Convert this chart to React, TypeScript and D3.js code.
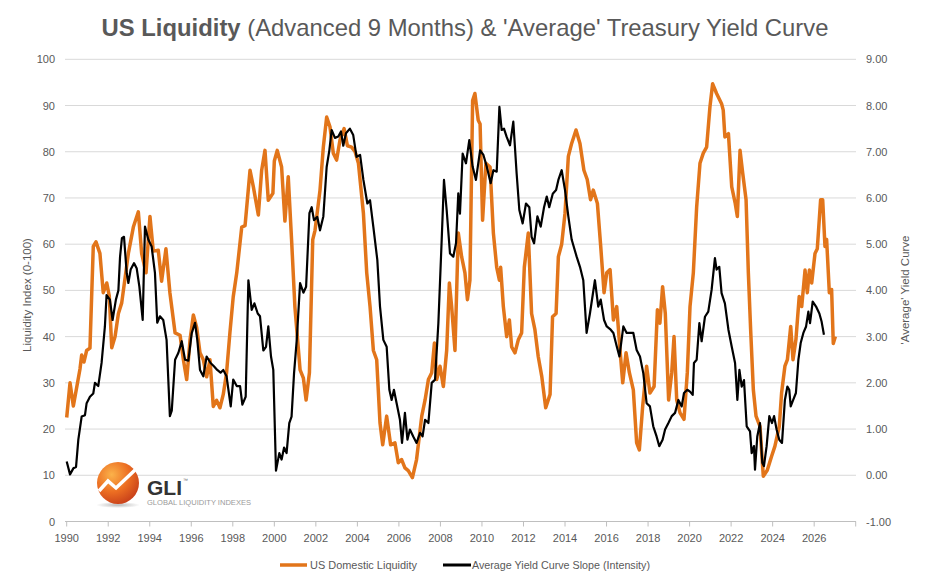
import * as d3 from 'd3';

// US Domestic Liquidity (0-100), [year, value]
const liquidity: [number, number][] = [
  [1990.0, 22.5], [1990.16, 30], [1990.32, 25], [1990.64, 33], [1990.72, 36], [1990.83, 34.5],
  [1990.96, 37], [1991.12, 37.5], [1991.28, 59.5], [1991.41, 60.5], [1991.6, 58], [1991.76, 49.5],
  [1991.93, 51.6], [1992.05, 48.8], [1992.17, 37.6], [1992.33, 40], [1992.49, 45], [1992.65, 47.3],
  [1992.97, 58], [1993.21, 63.7], [1993.45, 67], [1993.61, 58], [1993.82, 53.8], [1994.01, 66],
  [1994.17, 58.5], [1994.41, 58.7], [1994.57, 52], [1994.78, 59], [1994.97, 49.5], [1995.22, 40.8],
  [1995.46, 40.3], [1995.62, 35], [1995.78, 30.7], [1995.94, 39.3], [1996.1, 44.7], [1996.26, 42],
  [1996.42, 36.5], [1996.58, 35], [1996.74, 31.3], [1996.9, 35], [1997.06, 24.9], [1997.22, 26.2],
  [1997.38, 24.6], [1997.54, 27.5], [1997.7, 32.2], [1997.86, 40.8], [1998.02, 48.6], [1998.19, 53.8],
  [1998.43, 63.7], [1998.59, 64], [1998.83, 76], [1998.99, 72.4], [1999.23, 66.3], [1999.39, 76],
  [1999.55, 80.3], [1999.71, 69.5], [1999.93, 71], [2000.0, 78], [2000.14, 80.3], [2000.35, 76.7],
  [2000.51, 65], [2000.67, 74.6], [2000.83, 61], [2000.99, 46.5], [2001.24, 32.8], [2001.4, 31],
  [2001.53, 26.3], [2001.69, 32.2], [2001.85, 61], [2001.96, 63], [2002.2, 71.7], [2002.36, 81],
  [2002.52, 87.5], [2002.68, 85.4], [2002.84, 79.7], [2003.0, 78.2], [2003.16, 82.5], [2003.36, 85],
  [2003.52, 81.3], [2003.72, 81], [2003.89, 80], [2004.05, 77.5], [2004.29, 66.7], [2004.45, 53.8],
  [2004.61, 46.5], [2004.77, 37], [2004.93, 35], [2005.09, 21.3], [2005.22, 16.6], [2005.41, 22.8],
  [2005.6, 16.6], [2005.81, 17], [2005.97, 12.7], [2006.13, 13.4], [2006.29, 11.6], [2006.45, 11],
  [2006.65, 9.5], [2006.85, 13.4], [2007.1, 22.8], [2007.26, 26.3], [2007.42, 30.7], [2007.58, 32.2],
  [2007.71, 38.6], [2007.82, 30.7], [2007.98, 33.6], [2008.14, 29.2], [2008.3, 37], [2008.43, 51.6],
  [2008.54, 46.5], [2008.7, 37], [2008.86, 62.4], [2009.02, 57.3], [2009.18, 53.8], [2009.3, 48],
  [2009.42, 52.2], [2009.55, 91.1], [2009.66, 92.6], [2009.82, 86.8], [2009.91, 86], [2010.03, 65.2],
  [2010.19, 77.5], [2010.39, 76.7], [2010.55, 62.4], [2010.71, 55], [2010.84, 52.2], [2010.9, 55],
  [2011.03, 46.5], [2011.19, 40], [2011.32, 43.6], [2011.43, 37.8], [2011.59, 36.5], [2011.75, 39.3],
  [2011.91, 40.8], [2012.04, 55], [2012.23, 62.4], [2012.39, 45], [2012.55, 41.5], [2012.71, 35.7],
  [2012.88, 31.4], [2013.07, 24.6], [2013.28, 27.5], [2013.4, 44.3], [2013.57, 45], [2013.68, 57.3],
  [2013.84, 60], [2014.0, 66.7], [2014.16, 79], [2014.32, 81.8], [2014.53, 84.7], [2014.72, 81.8],
  [2014.91, 76], [2015.07, 74], [2015.23, 69.6], [2015.36, 71.7], [2015.56, 68.8], [2015.72, 59.5],
  [2015.88, 49.5], [2016.01, 53.8], [2016.17, 54.5], [2016.33, 43.6], [2016.49, 46.5], [2016.65, 37],
  [2016.78, 30], [2016.94, 36.5], [2017.1, 32.2], [2017.29, 28.5], [2017.45, 17], [2017.58, 15.5],
  [2017.74, 24.9], [2017.93, 33.6], [2018.09, 27.8], [2018.29, 29.2], [2018.45, 45.8], [2018.57, 42.9],
  [2018.7, 50.8], [2018.83, 45], [2018.99, 26.3], [2019.14, 32.2], [2019.25, 40], [2019.38, 26.3],
  [2019.54, 23.5], [2019.73, 22.1], [2019.89, 32.2], [2020.02, 46.5], [2020.18, 53.8], [2020.34, 68],
  [2020.5, 77.5], [2020.66, 79.7], [2020.82, 81], [2020.98, 89.7], [2021.11, 94.7], [2021.3, 92.6],
  [2021.54, 90.4], [2021.62, 89], [2021.7, 83.2], [2021.87, 83.9], [2022.03, 72.4], [2022.19, 69],
  [2022.3, 66], [2022.43, 80.3], [2022.56, 75.3], [2022.72, 69.6], [2022.83, 53.8], [2022.94, 41.5],
  [2023.07, 28.5], [2023.2, 22.8], [2023.39, 20.6], [2023.55, 9.8], [2023.74, 11.1], [2023.95, 14.1],
  [2024.11, 16.3], [2024.32, 20.6], [2024.43, 27.8], [2024.59, 33.6], [2024.71, 35], [2024.87, 42.2],
  [2024.98, 35], [2025.12, 39.3], [2025.28, 48.7], [2025.4, 46.5], [2025.56, 54.4], [2025.67, 49.5],
  [2025.77, 54.4], [2025.88, 51.6], [2026.04, 58], [2026.15, 59], [2026.31, 69.6], [2026.41, 69.6],
  [2026.52, 59.5], [2026.6, 61], [2026.73, 49.5], [2026.84, 50.2], [2026.92, 38.5], [2027.02, 40],
];

// Average Yield Curve Slope (Intensity), right axis, [year, value]
const yieldCurve: [number, number][] = [
  [1990.0, 0.3], [1990.16, 0.02], [1990.32, 0.15], [1990.45, 0.18], [1990.56, 0.77], [1990.72, 1.27],
  [1990.88, 1.3], [1990.96, 1.56], [1991.12, 1.7], [1991.28, 1.77], [1991.36, 2.0], [1991.52, 1.93],
  [1991.68, 2.43], [1991.84, 3.22], [1991.92, 3.9], [1992.08, 3.8], [1992.21, 3.36], [1992.37, 3.8],
  [1992.49, 4.0], [1992.57, 4.73], [1992.66, 5.13], [1992.76, 5.16], [1992.89, 4.37], [1992.97, 4.16],
  [1993.08, 4.45], [1993.24, 4.59], [1993.37, 4.48], [1993.5, 4.08], [1993.66, 3.36], [1993.77, 5.38],
  [1993.93, 5.1], [1994.09, 4.95], [1994.25, 4.38], [1994.36, 3.3], [1994.49, 3.44], [1994.65, 3.36],
  [1994.81, 2.93], [1994.97, 1.28], [1995.06, 1.4], [1995.22, 2.5], [1995.38, 2.65], [1995.54, 2.9],
  [1995.7, 2.5], [1995.86, 2.48], [1996.02, 3.07], [1996.18, 3.3], [1996.29, 2.93], [1996.42, 2.28],
  [1996.58, 2.14], [1996.74, 2.57], [1996.93, 2.43], [1997.09, 2.36], [1997.25, 2.28], [1997.41, 2.22],
  [1997.54, 2.28], [1997.7, 2.14], [1997.9, 1.49], [1998.02, 2.07], [1998.19, 1.93], [1998.35, 1.93],
  [1998.46, 1.53], [1998.62, 1.7], [1998.75, 4.22], [1998.91, 3.58], [1999.04, 3.72], [1999.2, 3.5],
  [1999.31, 3.44], [1999.47, 2.7], [1999.6, 2.78], [1999.71, 3.22], [1999.84, 2.57], [1999.95, 2.28],
  [2000.08, 0.1], [2000.24, 0.48], [2000.35, 0.34], [2000.47, 0.6], [2000.59, 0.48], [2000.72, 1.13],
  [2000.83, 1.27], [2000.95, 2.21], [2001.08, 2.93], [2001.24, 4.16], [2001.4, 3.95], [2001.53, 4.08],
  [2001.69, 5.67], [2001.8, 5.8], [2001.91, 5.52], [2002.07, 5.59], [2002.2, 5.3], [2002.36, 5.6],
  [2002.52, 6.67], [2002.65, 7.03], [2002.76, 7.47], [2002.92, 7.3], [2003.08, 7.33], [2003.21, 7.44],
  [2003.32, 7.13], [2003.45, 7.4], [2003.64, 7.5], [2003.8, 7.36], [2003.96, 6.89], [2004.13, 6.93],
  [2004.29, 6.39], [2004.48, 5.88], [2004.61, 5.95], [2004.77, 5.37], [2004.96, 4.66], [2005.09, 3.65],
  [2005.25, 2.93], [2005.41, 2.78], [2005.54, 1.85], [2005.65, 1.63], [2005.76, 1.85], [2005.89, 1.56],
  [2006.05, 1.2], [2006.15, 0.7], [2006.29, 1.35], [2006.41, 0.77], [2006.53, 0.99], [2006.69, 0.84],
  [2006.85, 0.7], [2007.02, 0.92], [2007.14, 0.84], [2007.26, 1.2], [2007.42, 1.13], [2007.58, 2.0],
  [2007.74, 2.07], [2007.9, 3.29], [2008.06, 5.09], [2008.17, 6.39], [2008.3, 5.74], [2008.46, 4.8],
  [2008.62, 4.73], [2008.75, 5.02], [2008.86, 6.1], [2008.94, 5.66], [2009.07, 6.96], [2009.23, 6.75],
  [2009.39, 7.25], [2009.55, 6.68], [2009.71, 6.39], [2009.91, 7.03], [2010.07, 6.93], [2010.23, 6.68],
  [2010.31, 6.53], [2010.42, 6.32], [2010.55, 6.6], [2010.71, 6.57], [2010.84, 7.97], [2010.95, 7.47],
  [2011.06, 7.5], [2011.19, 7.32], [2011.35, 7.14], [2011.51, 7.65], [2011.67, 6.53], [2011.8, 5.74],
  [2011.96, 5.45], [2012.12, 5.88], [2012.28, 5.8], [2012.39, 5.16], [2012.51, 5.02], [2012.67, 5.6],
  [2012.83, 5.38], [2012.99, 5.8], [2013.12, 6.03], [2013.24, 5.8], [2013.41, 6.09], [2013.57, 6.17],
  [2013.68, 6.39], [2013.84, 6.6], [2014.0, 6.17], [2014.16, 5.6], [2014.32, 5.1], [2014.56, 4.73],
  [2014.72, 4.51], [2014.88, 4.22], [2015.04, 3.08], [2015.2, 3.5], [2015.44, 4.22], [2015.6, 3.65],
  [2015.72, 3.8], [2015.88, 3.36], [2016.01, 3.22], [2016.2, 3.15], [2016.33, 3.08], [2016.49, 2.79],
  [2016.62, 2.57], [2016.81, 3.22], [2016.97, 3.08], [2017.13, 3.08], [2017.29, 3.08], [2017.45, 2.71],
  [2017.61, 2.57], [2017.77, 2.21], [2017.93, 1.56], [2018.09, 1.49], [2018.25, 1.06], [2018.41, 0.84],
  [2018.54, 0.63], [2018.7, 0.77], [2018.82, 0.99], [2018.98, 1.13], [2019.14, 1.28], [2019.3, 1.35],
  [2019.46, 1.63], [2019.62, 1.49], [2019.73, 1.78], [2019.89, 1.85], [2020.02, 1.81], [2020.15, 1.74],
  [2020.21, 2.43], [2020.34, 2.5], [2020.47, 3.29], [2020.58, 2.9], [2020.74, 3.43], [2020.9, 3.54],
  [2021.06, 4.01], [2021.22, 4.7], [2021.3, 4.45], [2021.43, 4.51], [2021.54, 3.94], [2021.7, 3.72],
  [2021.87, 3.15], [2022.03, 2.78], [2022.19, 2.43], [2022.3, 1.63], [2022.4, 2.28], [2022.51, 1.92],
  [2022.62, 2.06], [2022.75, 1.06], [2022.91, 0.95], [2022.99, 0.48], [2023.1, 0.63], [2023.15, 0.12],
  [2023.26, 0.84], [2023.39, 1.13], [2023.5, 0.27], [2023.58, 0.2], [2023.71, 0.63], [2023.84, 1.28],
  [2023.97, 1.13], [2024.07, 1.28], [2024.19, 0.99], [2024.32, 0.77], [2024.45, 0.7], [2024.59, 1.63],
  [2024.71, 1.92], [2024.8, 1.85], [2024.87, 1.49], [2024.99, 1.63], [2025.12, 1.78], [2025.24, 2.5],
  [2025.35, 2.86], [2025.48, 3.08], [2025.61, 3.22], [2025.72, 3.54], [2025.8, 3.29], [2025.93, 3.76],
  [2026.09, 3.65], [2026.25, 3.5], [2026.36, 3.32], [2026.47, 3.04],
];

const leftTicks = [0, 10, 20, 30, 40, 50, 60, 70, 80, 90, 100];
const rightTicks = [-1, 0, 1, 2, 3, 4, 5, 6, 7, 8, 9];
const yearTicks = d3.range(1990, 2027, 2);
const axisTicks = d3.range(1990, 2029, 2);

const ORANGE = '#e2751a';
const TEXT = '#595959';
const FONT = '"Liberation Sans", Arial, sans-serif';

export default function App() {
  const x = d3.scaleLinear().domain([1990, 2028]).range([66.7, 855.7]);
  const yL = d3.scaleLinear().domain([0, 100]).range([521.5, 59.3]);
  const yR = d3.scaleLinear().domain([-1, 9]).range([521.5, 59.3]);

  const liqLine = d3.line<[number, number]>().x((d) => x(d[0])).y((d) => yL(d[1]));
  const ycLine = d3.line<[number, number]>().x((d) => x(d[0])).y((d) => yR(d[1]));

  return (
    <svg
      width={929}
      height={584}
      style={{ position: 'absolute', left: 0, top: 0, background: '#fff' }}
      fontFamily={FONT}
    >
      <defs>
        <radialGradient id="ball" cx="35%" cy="30%" r="75%">
          <stop offset="0%" stopColor="#fbb24a" />
          <stop offset="55%" stopColor="#ec6e22" />
          <stop offset="100%" stopColor="#c8401a" />
        </radialGradient>
        <radialGradient id="shadow" cx="50%" cy="50%" r="50%">
          <stop offset="0%" stopColor="#888" stopOpacity={0.6} />
          <stop offset="100%" stopColor="#888" stopOpacity={0} />
        </radialGradient>
      </defs>

      {/* title */}
      <text x={465} y={36} textAnchor="middle" fontSize={24} fill={TEXT} textLength={727} lengthAdjust="spacingAndGlyphs">
        <tspan fontWeight="bold">US Liquidity</tspan>
        <tspan> (Advanced 9 Months) &amp; 'Average' Treasury Yield Curve</tspan>
      </text>

      {/* gridlines */}
      {leftTicks.slice(1).map((t) => (
        <line key={t} x1={65} x2={856} y1={yL(t)} y2={yL(t)} stroke="#d9d9d9" strokeWidth={1} />
      ))}
      <line x1={65} x2={856} y1={yL(0)} y2={yL(0)} stroke="#bfbfbf" strokeWidth={1} />
      {axisTicks.map((t) => (
        <line key={t} x1={x(t)} x2={x(t)} y1={yL(0)} y2={yL(0) + 5} stroke="#bfbfbf" strokeWidth={1} />
      ))}

      {/* left axis */}
      {leftTicks.map((t) => (
        <text key={t} x={55} y={yL(t) + 4} textAnchor="end" fontSize={11} fill={TEXT}>
          {t}
        </text>
      ))}
      <text transform="translate(31,295) rotate(-90)" textAnchor="middle" fontSize={11.5} fill={TEXT}>
        Liquidity Index (0-100)
      </text>

      {/* right axis */}
      {rightTicks.map((t) => (
        <text key={t} x={866} y={yR(t) + 4} textAnchor="start" fontSize={11} fill={TEXT}>
          {t.toFixed(2)}
        </text>
      ))}
      <text transform="translate(909,290) rotate(-90)" textAnchor="middle" fontSize={11.5} fill={TEXT}>
        'Average' Yield Curve
      </text>

      {/* x axis */}
      {yearTicks.map((t) => (
        <text key={t} x={x(t)} y={542} textAnchor="middle" fontSize={11} fill={TEXT}>
          {t}
        </text>
      ))}

      {/* logo */}
      <ellipse cx={118} cy={505} rx={22} ry={3} fill="url(#shadow)" />
      <circle cx={118} cy={483} r={21} fill="url(#ball)" />
      <path
        d="M99,491 L108,481 L116,488 L135,470"
        fill="none"
        stroke="#fff"
        strokeWidth={3.5}
        strokeLinejoin="miter"
      />
      <text x={147} y={495} fontSize={21} fontWeight="bold" fill="#333">
        GLI
      </text>
      <text x={183} y={482} fontSize={5} fill="#666">
        ™
      </text>
      <text x={147} y={505} fontSize={7.4} fill="#9a9a9a" textLength={104} lengthAdjust="spacingAndGlyphs">
        GLOBAL LIQUIDITY INDEXES
      </text>

      {/* series */}
      <path d={liqLine(liquidity) ?? ''} fill="none" stroke={ORANGE} strokeWidth={3.5} strokeLinejoin="round" />
      <path d={ycLine(yieldCurve) ?? ''} fill="none" stroke="#000" strokeWidth={2.2} strokeLinejoin="round" />

      {/* legend */}
      <line x1={280} x2={307} y1={565} y2={565} stroke={ORANGE} strokeWidth={3.5} />
      <text x={310} y={569} fontSize={11} fill={TEXT} textLength={107} lengthAdjust="spacingAndGlyphs">
        US Domestic Liquidity
      </text>
      <line x1={443} x2={471} y1={565} y2={565} stroke="#000" strokeWidth={3} />
      <text x={472} y={569} fontSize={11} fill={TEXT} textLength={178} lengthAdjust="spacingAndGlyphs">
        Average Yield Curve Slope (Intensity)
      </text>
    </svg>
  );
}
